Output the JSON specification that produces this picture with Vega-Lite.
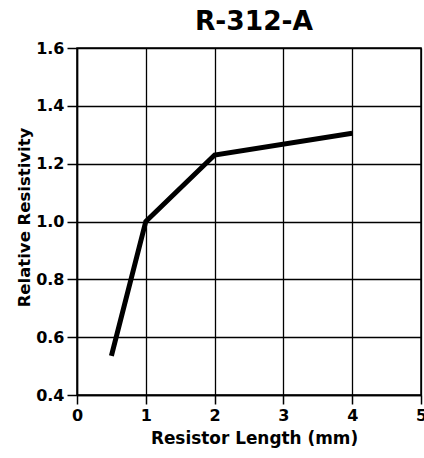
{
  "$schema": "https://vega.github.io/schema/vega-lite/v6.json",
  "autosize": "none",
  "width": 344,
  "height": 347,
  "padding": {"left": 77, "top": 48, "right": 3, "bottom": 63},
  "background": "white",
  "title": {"text": "R-312-A", "font": "DejaVu Sans", "fontSize": 26.5, "fontWeight": "bold", "color": "black", "offset": 5, "anchor": "middle", "dx": 5},
  "config": {
    "view": {"stroke": "black", "strokeWidth": 1.5},
    "axis": {
      "labelFont": "DejaVu Sans", "labelFontSize": 16, "labelFontWeight": "bold", "labelColor": "black",
      "titleFont": "DejaVu Sans", "titleFontSize": 16.5, "titleFontWeight": "bold", "titleColor": "black",
      "domainColor": "black", "domainWidth": 1.5, "tickColor": "black", "tickWidth": 1.5,
      "gridColor": "black", "gridOpacity": 1, "gridWidth": 1.3
    }
  },
  "data": {"values": [
    {"length": 0.5, "resistivity": 0.535},
    {"length": 1, "resistivity": 1.0},
    {"length": 2, "resistivity": 1.23},
    {"length": 4, "resistivity": 1.305}
  ]},
  "mark": {"type": "line", "color": "black", "strokeWidth": 5, "strokeJoin": "miter"},
  "encoding": {
    "x": {"field": "length", "type": "quantitative", "scale": {"domain": [0, 5], "nice": false},
      "axis": {"values": [0, 1, 2, 3, 4, 5], "title": "Resistor Length (mm)", "titleFontSize": 16.9, "titleX": 177, "tickSize": 9, "labelPadding": 3, "titlePadding": 7, "labelFlush": false, "labelOverlap": false}},
    "y": {"field": "resistivity", "type": "quantitative", "scale": {"domain": [0.4, 1.6], "nice": false, "zero": false},
      "axis": {"values": [0.4, 0.6, 0.8, 1.0, 1.2, 1.4, 1.6], "format": ".1f", "title": "Relative Resistivity", "titleY": 169, "tickSize": 10, "labelPadding": 3, "titlePadding": 3, "labelFlush": false, "labelOverlap": false}}
  }
}
